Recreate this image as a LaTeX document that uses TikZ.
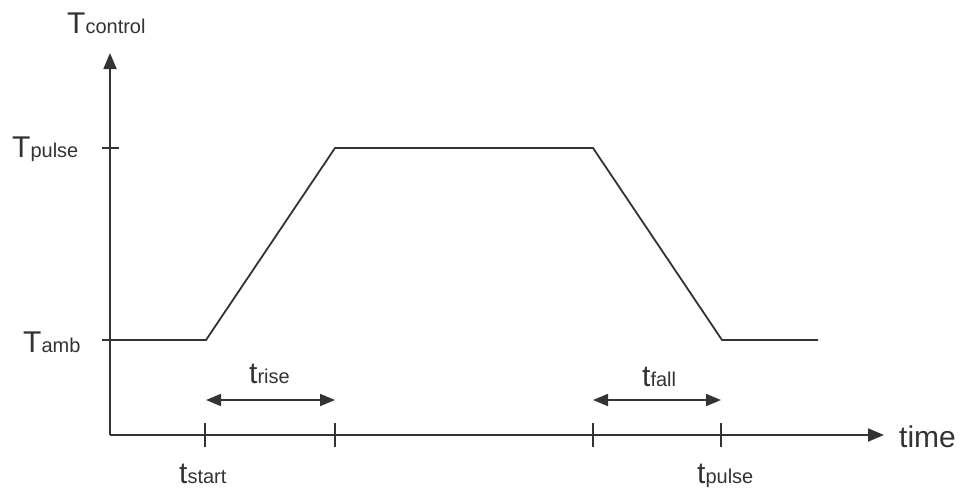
\documentclass[tikz,border=0pt]{standalone}
\usepackage{fontspec}
\setmainfont{Liberation Sans}
\usetikzlibrary{arrows.meta}
\definecolor{ink}{HTML}{333333}
\newcommand{\lbl}[2]{{\fontsize{30}{30}\selectfont #1}{\fontsize{20}{20}\selectfont #2}}
\begin{document}
\begin{tikzpicture}[x=1pt,y=-1pt,
  axis/.style={draw=ink,line width=1.8pt,-{Triangle[length=16pt,width=13pt]}},
  curve/.style={draw=ink,line width=1.8pt,line join=miter},
  tickmark/.style={draw=ink,line width=1.6pt},
  span/.style={draw=ink,line width=1.8pt,{Triangle[length=15pt,width=12pt]}-{Triangle[length=15pt,width=12pt]}},
  lab/.style={anchor=base west,inner sep=0pt,text=ink}]
\useasboundingbox (0,0) rectangle (963,490);
% axes
\coordinate (O) at (110,435);
\coordinate (ytip) at (110,53);
\coordinate (xtip) at (884,435);
\draw[axis] (O) -- (ytip);
\draw[axis] (O) -- (xtip);
% curve points
\coordinate (c0) at (110,340);
\coordinate (c1) at (206,340);
\coordinate (c2) at (335,148);
\coordinate (c3) at (593,148);
\coordinate (c4) at (722,340);
\coordinate (c5) at (818,340);
\draw[curve] (c0) -- (c1) -- (c2) -- (c3) -- (c4) -- (c5);
% y ticks
\coordinate (yp1) at (102,148); \coordinate (yp2) at (119,148);
\coordinate (ya1) at (102,340); \coordinate (ya2) at (119,340);
\draw[tickmark] (yp1) -- (yp2);
\draw[tickmark] (ya1) -- (ya2);
% x ticks
\foreach \n/\x in {ta/205,tb/335,tc/593,td/721}{
  \coordinate (\n1) at (\x,423); \coordinate (\n2) at (\x,447);
  \draw[tickmark] (\n1) -- (\n2);
}
% spans
\coordinate (r1) at (206,400); \coordinate (r2) at (335,400);
\coordinate (f1) at (593,400); \coordinate (f2) at (721,400);
\draw[span] (r1) -- (r2);
\draw[span] (f1) -- (f2);
% labels
\node[lab] (Tc) at (67,33) {\lbl{T}{control}};
\node[lab] (Tp) at (12,157) {\lbl{T}{pulse}};
\node[lab] (Ta) at (23,352) {\lbl{T}{amb}};
\node[lab] (tr) at (249,383) {\lbl{t}{rise}};
\node[lab] (tf) at (642,386) {\lbl{t}{fall}};
\node[lab] (ts) at (179,483) {\lbl{t}{start}};
\node[lab] (tp) at (697,483) {\lbl{t}{pulse}};
\node[lab] (tm) at (899,447) {\fontsize{30}{30}\selectfont time};
\end{tikzpicture}
\end{document}
